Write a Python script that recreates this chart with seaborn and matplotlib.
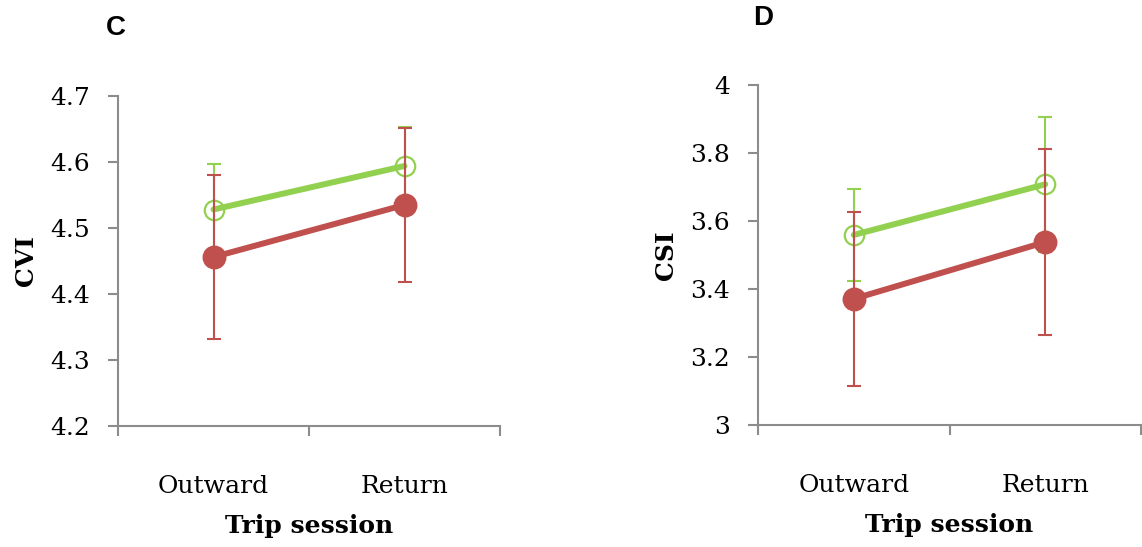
import seaborn as sns
import matplotlib.pyplot as plt
import numpy as np
import pandas as pd

sessions = ["Outward", "Return"]

# panel C (CVI)
cvi_red = [4.456, 4.535]
cvi_red_err = [0.124, 0.117]
cvi_green = [4.528, 4.594]
cvi_green_err = [0.069, 0.059]

# panel D (CSI)
csi_red = [3.371, 3.538]
csi_red_err = [0.256, 0.273]
csi_green = [3.559, 3.708]
csi_green_err = [0.136, 0.199]

RED = "#C0504D"
GREEN = "#92D050"
AXIS_GREY = "#8C8C8C"

sns.set_style("white")
plt.rcParams["font.family"] = ["DejaVu Serif"]
plt.rcParams["text.color"] = "black"
plt.rcParams["axes.labelcolor"] = "black"
plt.rcParams["xtick.color"] = "black"
plt.rcParams["ytick.color"] = "black"

fig = plt.figure(figsize=(11.42, 5.47), dpi=100)
W, H = 1142, 547


def add_axes(left, right, top, bottom):
    return fig.add_axes([left / W, 1 - bottom / H, (right - left) / W, (bottom - top) / H])


def draw_panel(ax, red, red_err, green, green_err, ylim, yticks, ylabel, fmt):
    xs = np.arange(len(sessions))
    # green series (hollow markers)
    ax.errorbar(xs, green, yerr=green_err, fmt="none", ecolor=GREEN, elinewidth=1.5,
                capsize=5, capthick=1.5, zorder=2)
    df_g = pd.DataFrame({"session": sessions, "value": green})
    sns.pointplot(data=df_g, x="session", y="value", color=GREEN, errorbar=None,
                  markers="o", markersize=14, linewidth=4.3, ax=ax,
                  markerfacecolor="none", markeredgewidth=1.6, zorder=3)
    # red series (filled markers)
    ax.errorbar(xs, red, yerr=red_err, fmt="none", ecolor=RED, elinewidth=1.5,
                capsize=5, capthick=1.5, zorder=4)
    df_r = pd.DataFrame({"session": sessions, "value": red})
    sns.pointplot(data=df_r, x="session", y="value", color=RED, errorbar=None,
                  markers="o", markersize=14, linewidth=4.3, ax=ax, zorder=5)

    ax.set_xlim(-0.5, 1.5)
    ax.set_ylim(*ylim)
    ax.set_yticks(yticks)
    ax.set_yticklabels([fmt(v) for v in yticks])
    ax.set_xticks(xs)
    ax.set_xticklabels(sessions)
    ax.set_xticks([-0.5, 0.5, 1.5], minor=True)
    ax.tick_params(axis="x", which="major", length=0, pad=35, labelsize=18)
    ax.tick_params(axis="x", which="minor", bottom=True, length=7, width=1.5,
                   color=AXIS_GREY, direction="out")
    ax.tick_params(axis="y", length=7, width=1.5, color=AXIS_GREY, direction="out",
                   labelsize=18, left=True, pad=13, labelcolor="black")
    for side in ["top", "right"]:
        ax.spines[side].set_visible(False)
    for side in ["left", "bottom"]:
        ax.spines[side].set_color(AXIS_GREY)
        ax.spines[side].set_linewidth(1.5)
    ax.set_xlabel("Trip session", fontsize=18, fontweight="bold", labelpad=12)
    ax.set_ylabel(ylabel, fontsize=18, fontweight="bold", labelpad=9)


ax_c = add_axes(118, 500, 96, 426)
draw_panel(ax_c, cvi_red, cvi_red_err, cvi_green, cvi_green_err,
           (4.2, 4.7), [4.2, 4.3, 4.4, 4.5, 4.6, 4.7], "CVI", lambda v: f"{v:.1f}")

ax_d = add_axes(758, 1141, 85, 425)
draw_panel(ax_d, csi_red, csi_red_err, csi_green, csi_green_err,
           (3.0, 4.0), [3.0, 3.2, 3.4, 3.6, 3.8, 4.0], "CSI",
           lambda v: f"{v:g}")

fig.text(116 / W, 1 - 28 / H, "C", fontsize=20, fontweight="bold",
         family=["Liberation Sans", "DejaVu Sans"], va="center", ha="center")
fig.text(763 / W, 1 - 18 / H, "D", fontsize=20, fontweight="bold",
         family=["Liberation Sans", "DejaVu Sans"], va="center", ha="center")

fig.savefig("out.png", dpi=100)
